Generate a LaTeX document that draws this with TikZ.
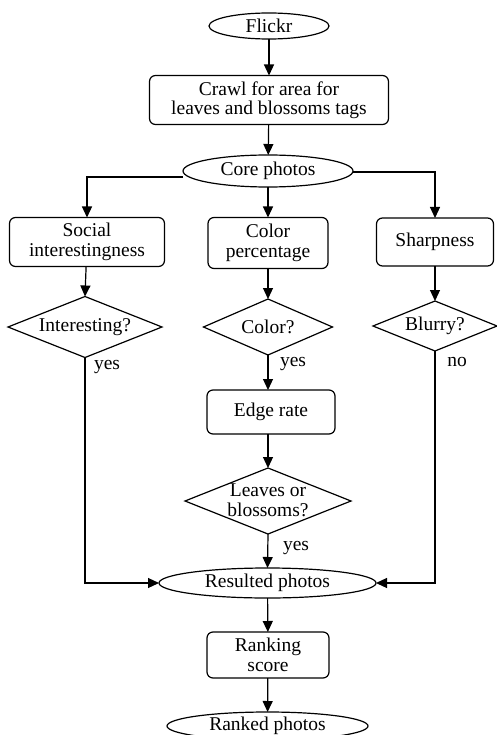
\documentclass[tikz,border=0pt]{standalone}
\usepackage{fontspec}
\setmainfont{Liberation Serif}
\usetikzlibrary{shapes.geometric,arrows.meta}
\begin{document}
\begin{tikzpicture}[x=1pt,y=-1pt,
  font=\fontsize{19.5}{19.5}\selectfont,
  every node/.style={inner sep=0pt, outer sep=0pt, align=center},
  oval/.style={draw, ellipse, line width=1.2pt},
  rbox/.style={draw, rounded corners=6pt, line width=1.2pt},
  dia/.style={draw, diamond, aspect=2.5, line width=1.2pt},
  arr/.style={line width=1.2pt, -{Triangle[width=10pt,length=11pt]}},
  lbl/.style={font=\fontsize{19.5}{19.5}\selectfont}]
\useasboundingbox (0,0) rectangle (497,735);
\node[oval, minimum width=120, minimum height=26] (flickr) at (269,26) {Flickr};
\node[rbox, minimum width=239, minimum height=49] (crawl) at (269,100) {Crawl for area for\\leaves and blossoms tags};
\node[oval, minimum width=170, minimum height=32] (core) at (268,171) {Core photos};
\node[rbox, minimum width=155, minimum height=49] (social) at (87,242) {Social\\interestingness};
\node[rbox, minimum width=120, minimum height=51] (color) at (268,243) {Color\\percentage};
\node[rbox, minimum width=117, minimum height=48] (sharp) at (435,242) {Sharpness};
\node[dia, minimum width=154, minimum height=61] (inter) at (85,327) {};
\node at (85,327) {Interesting?};
\node[dia, minimum width=129, minimum height=56] (colq) at (268,327) {};
\node at (268,327) {Color?};
\node[dia, minimum width=124, minimum height=50] (blur) at (435,326) {};
\node at (435,326) {Blurry?};
\node[rbox, minimum width=128, minimum height=44] (edge) at (271,412) {Edge rate};
\node[dia, minimum width=166, minimum height=66] (leaves) at (268,501) {};
\node at (268,500) {Leaves or\\blossoms?};
\node[oval, minimum width=217, minimum height=30] (res) at (267.5,583) {Resulted photos};
\node[rbox, minimum width=122, minimum height=46] (rank) at (268,655) {Ranking\\score};
\node[oval, minimum width=201, minimum height=28] (ranked) at (267.5,726) {Ranked photos};

\draw[arr] (flickr) -- (crawl);
\draw[arr] (crawl) -- (core);
\draw[arr] (core.west |- 0,177) -| (social.north);
\draw[arr] (core) -- (color);
\draw[arr] (core.east |- 0,172) -| (sharp.north);
\draw[arr] (social) -- (inter.north);
\draw[arr] (color) -- (colq.north);
\draw[arr] (sharp) -- (blur.north);
\draw[arr] (colq.south) -- (colq.south |- edge.north);
\draw[arr] (edge.south -| leaves.north) -- (leaves.north);
\draw[arr] (leaves.south) -- (res.north);
\draw[arr] (inter.south) |- (res.west);
\draw[arr] (blur.south) |- (res.east);
\draw[arr] (res) -- (rank);
\draw[arr] (rank) -- (ranked);
\node[lbl] (y1) at (107,367) {yes};
\node[lbl] (y2) at (293,364) {yes};
\node[lbl] (n1) at (457,362) {no};
\node[lbl] (y3) at (296,548) {yes};
\end{tikzpicture}
\end{document}
